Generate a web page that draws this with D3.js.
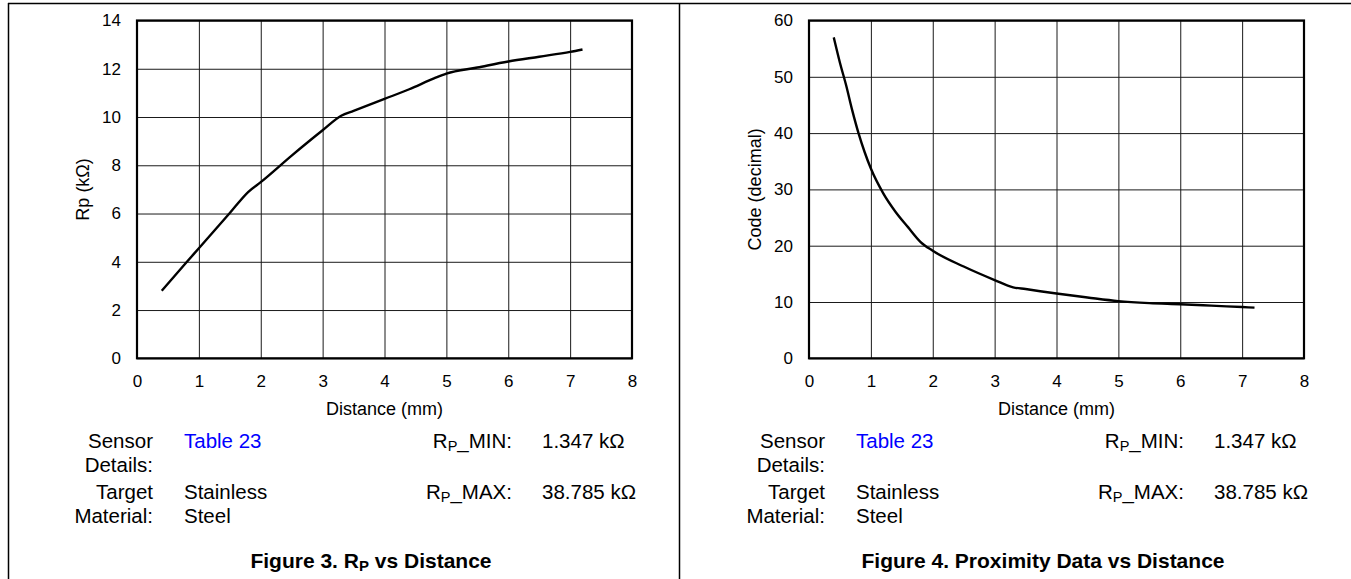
<!DOCTYPE html>
<html>
<head>
<meta charset="utf-8">
<script src="https://cdn.jsdelivr.net/npm/d3@7/dist/d3.min.js"></script>
<style>
  html, body { margin: 0; padding: 0; background: #fff; }
  svg { display: block; font-family: "Liberation Sans", Arial, Helvetica, sans-serif; }
</style>
</head>
<body>
<svg id="chart" width="1351" height="579"></svg>
<script>
// ---- Data ----
const distanceRp = [0.4, 0.8, 1.0, 1.5, 1.8, 2.0, 2.5, 3.0, 3.3, 3.5, 4.0, 4.4, 4.8, 5.0, 5.5, 6.0, 6.5, 7.0, 7.2];
const rpValues   = [2.8, 3.98, 4.56, 6.02, 6.9, 7.3, 8.4, 9.45, 10.05, 10.25, 10.75, 11.15, 11.6, 11.8, 12.05, 12.3, 12.5, 12.7, 12.8];

const distanceCode = [0.4, 0.5, 0.6, 0.7, 0.8, 0.9, 1.0, 1.2, 1.4, 1.6, 1.8, 2.0, 2.5, 3.0, 3.3, 3.5, 4.0, 4.5, 5.0, 5.5, 6.0, 6.5, 7.0, 7.2];
const codeValues   = [57, 52.5, 48.5, 44, 40, 36.6, 33.7, 29.3, 26, 23.3, 20.7, 19.1, 16.3, 13.9, 12.6, 12.3, 11.5, 10.8, 10.15, 9.8, 9.6, 9.35, 9.1, 9.0];

const xTicks = [0, 1, 2, 3, 4, 5, 6, 7, 8];
const yTicksRp = [0, 2, 4, 6, 8, 10, 12, 14];
const yTicksCode = [0, 10, 20, 30, 40, 50, 60];

const xAxisTitle = "Distance (mm)";
const sensorLabel = ["Sensor", "Details:"];
const sensorValue = "Table 23";
const targetLabel = ["Target", "Material:"];
const targetValue = ["Stainless", "Steel"];
const rpMinValue = "1.347 kΩ";
const rpMaxValue = "38.785 kΩ";

// ---- Layout ----
const svg = d3.select("#chart");
const plot = { left: 137, right: 632, top: 20.5, bottom: 358.3 };

// outer frame
svg.append("line").attr("x1", 8).attr("x2", 1351).attr("y1", 3.5).attr("y2", 3.5)
  .attr("stroke", "#000").attr("stroke-width", 1.5);
svg.append("line").attr("x1", 8.5).attr("x2", 8.5).attr("y1", 3).attr("y2", 579)
  .attr("stroke", "#000").attr("stroke-width", 1.5);
svg.append("line").attr("x1", 679.5).attr("x2", 679.5).attr("y1", 3).attr("y2", 579)
  .attr("stroke", "#000").attr("stroke-width", 1.5);

function drawPanel(offset, xs, ys, yTicks, yMax, yTitle, figNum, figRest) {
  const g = svg.append("g").attr("transform", `translate(${offset},0)`);
  const x = d3.scaleLinear().domain([0, 8]).range([plot.left, plot.right]);
  const y = d3.scaleLinear().domain([0, yMax]).range([plot.bottom, plot.top]);

  // grid
  const gridX = g.append("g").attr("transform", `translate(0,${plot.bottom})`)
    .call(d3.axisBottom(x).tickValues(xTicks).tickSize(-(plot.bottom - plot.top)).tickFormat(""));
  gridX.select(".domain").remove();
  gridX.selectAll("line").attr("stroke", "#1a1a1a").attr("stroke-width", 1);

  const gridY = g.append("g").attr("transform", `translate(${plot.left},0)`)
    .call(d3.axisLeft(y).tickValues(yTicks).tickSize(-(plot.right - plot.left)).tickFormat(""));
  gridY.select(".domain").remove();
  gridY.selectAll("line").attr("stroke", "#1a1a1a").attr("stroke-width", 1);

  // tick labels
  const axX = g.append("g").attr("transform", `translate(0,${plot.bottom})`)
    .call(d3.axisBottom(x).tickValues(xTicks).tickSize(0).tickPadding(17).tickFormat(d3.format("d")));
  axX.select(".domain").remove();
  axX.selectAll("text").attr("font-size", 17).attr("fill", "#000")
    .attr("font-family", "'Liberation Sans', Arial, sans-serif");

  const axY = g.append("g").attr("transform", `translate(${plot.left},0)`)
    .call(d3.axisLeft(y).tickValues(yTicks).tickSize(0).tickPadding(16).tickFormat(d3.format("d")));
  axY.select(".domain").remove();
  axY.selectAll("text").attr("font-size", 17).attr("fill", "#000")
    .attr("font-family", "'Liberation Sans', Arial, sans-serif");

  // frame of plot
  g.append("rect").attr("x", plot.left).attr("y", plot.top)
    .attr("width", plot.right - plot.left).attr("height", plot.bottom - plot.top)
    .attr("fill", "none").attr("stroke", "#000").attr("stroke-width", 2.2);

  // curve
  const pts = xs.map((d, i) => [d, ys[i]]);
  g.append("path").datum(pts)
    .attr("d", d3.line().x(d => x(d[0])).y(d => y(d[1])).curve(d3.curveMonotoneX))
    .attr("fill", "none").attr("stroke", "#000").attr("stroke-width", 2.4)
    .attr("stroke-linejoin", "round");

  // axis titles
  g.append("text").attr("x", (plot.left + plot.right) / 2).attr("y", 415)
    .attr("text-anchor", "middle").attr("font-size", 18).text(xAxisTitle);
  g.append("text").attr("transform", `translate(89,${(plot.top + plot.bottom) / 2}) rotate(-90)`)
    .attr("text-anchor", "middle").attr("font-size", 18).text(yTitle);

  // info block
  const fs = 20.5;
  const rows = [448, 471.5, 499, 522.5];
  g.append("text").attr("x", 153).attr("y", rows[0]).attr("text-anchor", "end").attr("font-size", fs).text(sensorLabel[0]);
  g.append("text").attr("x", 153).attr("y", rows[1]).attr("text-anchor", "end").attr("font-size", fs).text(sensorLabel[1]);
  g.append("text").attr("x", 153).attr("y", rows[2]).attr("text-anchor", "end").attr("font-size", fs).text(targetLabel[0]);
  g.append("text").attr("x", 153).attr("y", rows[3]).attr("text-anchor", "end").attr("font-size", fs).text(targetLabel[1]);
  g.append("text").attr("x", 184).attr("y", rows[0]).attr("font-size", fs).attr("fill", "#0000ff").text(sensorValue);
  g.append("text").attr("x", 184).attr("y", rows[2]).attr("font-size", fs).text(targetValue[0]);
  g.append("text").attr("x", 184).attr("y", rows[3]).attr("font-size", fs).text(targetValue[1]);

  function rpLabel(yPos, suffix) {
    const t = g.append("text").attr("x", 512).attr("y", yPos).attr("text-anchor", "end").attr("font-size", fs);
    t.append("tspan").text("R");
    t.append("tspan").attr("font-size", 14.5).attr("dy", 3).text("P");
    t.append("tspan").attr("dy", -3).text(suffix);
  }
  rpLabel(rows[0], "_MIN:");
  rpLabel(rows[2], "_MAX:");
  g.append("text").attr("x", 542).attr("y", rows[0]).attr("font-size", fs).text(rpMinValue);
  g.append("text").attr("x", 542).attr("y", rows[2]).attr("font-size", fs).text(rpMaxValue);

  // figure caption
  const cap = g.append("text").attr("x", 371).attr("y", 568).attr("text-anchor", "middle")
    .attr("font-size", 21).attr("font-weight", "bold");
  cap.append("tspan").text(figNum);
  if (figRest) {
    cap.append("tspan").attr("font-size", 15).attr("dy", 3).text("P");
    cap.append("tspan").attr("dy", -3).text(figRest);
  }
}

drawPanel(0, distanceRp, rpValues, yTicksRp, 14, "Rp (kΩ)", "Figure 3. R", " vs Distance");
drawPanel(672, distanceCode, codeValues, yTicksCode, 60, "Code (decimal)", "Figure 4. Proximity Data vs Distance", null);
</script>
</body>
</html>
